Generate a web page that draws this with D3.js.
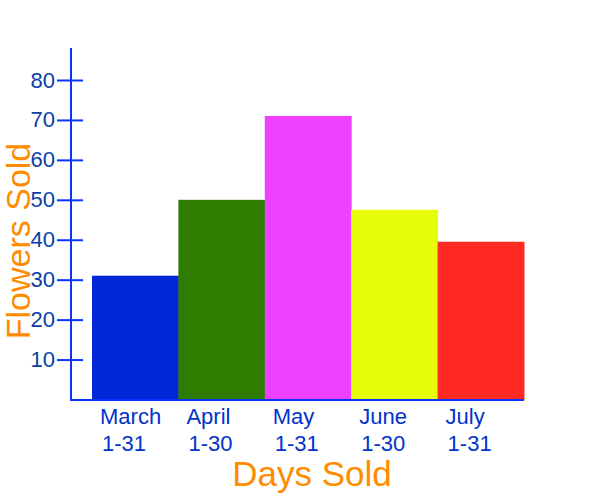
<!DOCTYPE html>
<html>
<head>
<meta charset="utf-8">
<script src="https://cdn.jsdelivr.net/npm/d3@7"></script>
<style>
    body { margin: 0; background: #fff; }
    svg { display: block; font-family: "Liberation Sans", Arial, sans-serif; }
</style>
</head>
<body>
<div id="chart"></div>
<script>
// data
var months = ["March", "April", "May", "June", "July"];
var dayRanges = ["1-31", "1-30", "1-31", "1-30", "1-31"];
var flowersSold = [31, 50, 71, 47.5, 39.5];
var barColors = ["#0028d8", "#2e7d00", "#ee40ff", "#e6fc08", "#ff2a22"];
var yTicks = [10, 20, 30, 40, 50, 60, 70, 80];

var width = 600,
    height = 500;

var axisColor = "#0a33ff";

var svg = d3.select("#chart").append("svg")
    .attr("width", width)
    .attr("height", height);

var x = d3.scaleBand()
    .domain(months)
    .range([92, 524])
    .padding(0);

var y = d3.scaleLinear()
    .domain([0, 80])
    .range([399.5, 80]);

// bars
svg.append("g")
    .selectAll("rect")
    .data(months)
    .enter()
    .append("rect")
    .attr("x", function (d) { return x(d); })
    .attr("width", x.bandwidth() + 0.5)
    .attr("y", function (d, i) { return y(flowersSold[i]); })
    .attr("height", function (d, i) { return y(0) - y(flowersSold[i]); })
    .attr("fill", function (d, i) { return barColors[i]; });

// y axis: ticks cross the axis line
var yAxis = d3.axisLeft(y)
    .tickValues(yTicks)
    .tickSize(14)
    .tickPadding(2);

var gY = svg.append("g")
    .attr("transform", "translate(71,0)")
    .call(yAxis);

gY.select(".domain").remove();
gY.selectAll(".tick line")
    .attr("x1", 12)
    .attr("x2", -14)
    .attr("stroke", axisColor)
    .attr("stroke-width", 2);
gY.selectAll(".tick text")
    .attr("fill", "#0a3fa8")
    .attr("font-size", 22)
    .attr("font-family", "Liberation Sans, Arial, sans-serif");

// axis lines
svg.append("line")
    .attr("x1", 71).attr("x2", 71)
    .attr("y1", 48).attr("y2", 401)
    .attr("stroke", axisColor)
    .attr("stroke-width", 2);

svg.append("line")
    .attr("x1", 70).attr("x2", 524)
    .attr("y1", 400).attr("y2", 400)
    .attr("stroke", axisColor)
    .attr("stroke-width", 2);

// category labels, two lines each
var labels = svg.append("g")
    .selectAll("text")
    .data(months)
    .enter()
    .append("text")
    .attr("fill", "#0033cc")
    .attr("font-size", 22);

labels.append("tspan")
    .attr("x", function (d) { return x(d) + 8; })
    .attr("y", 424)
    .text(function (d) { return d; });

labels.append("tspan")
    .attr("x", function (d) { return x(d) + 10; })
    .attr("y", 451)
    .text(function (d, i) { return dayRanges[i]; });

// axis titles
svg.append("text")
    .attr("x", 312)
    .attr("y", 486)
    .attr("text-anchor", "middle")
    .attr("fill", "#ff8c00")
    .attr("font-size", 35)
    .text("Days Sold");

svg.append("text")
    .attr("transform", "translate(30,241) rotate(-90)")
    .attr("text-anchor", "middle")
    .attr("fill", "#ff8c00")
    .attr("font-size", 34)
    .text("Flowers Sold");
</script>
</body>
</html>
